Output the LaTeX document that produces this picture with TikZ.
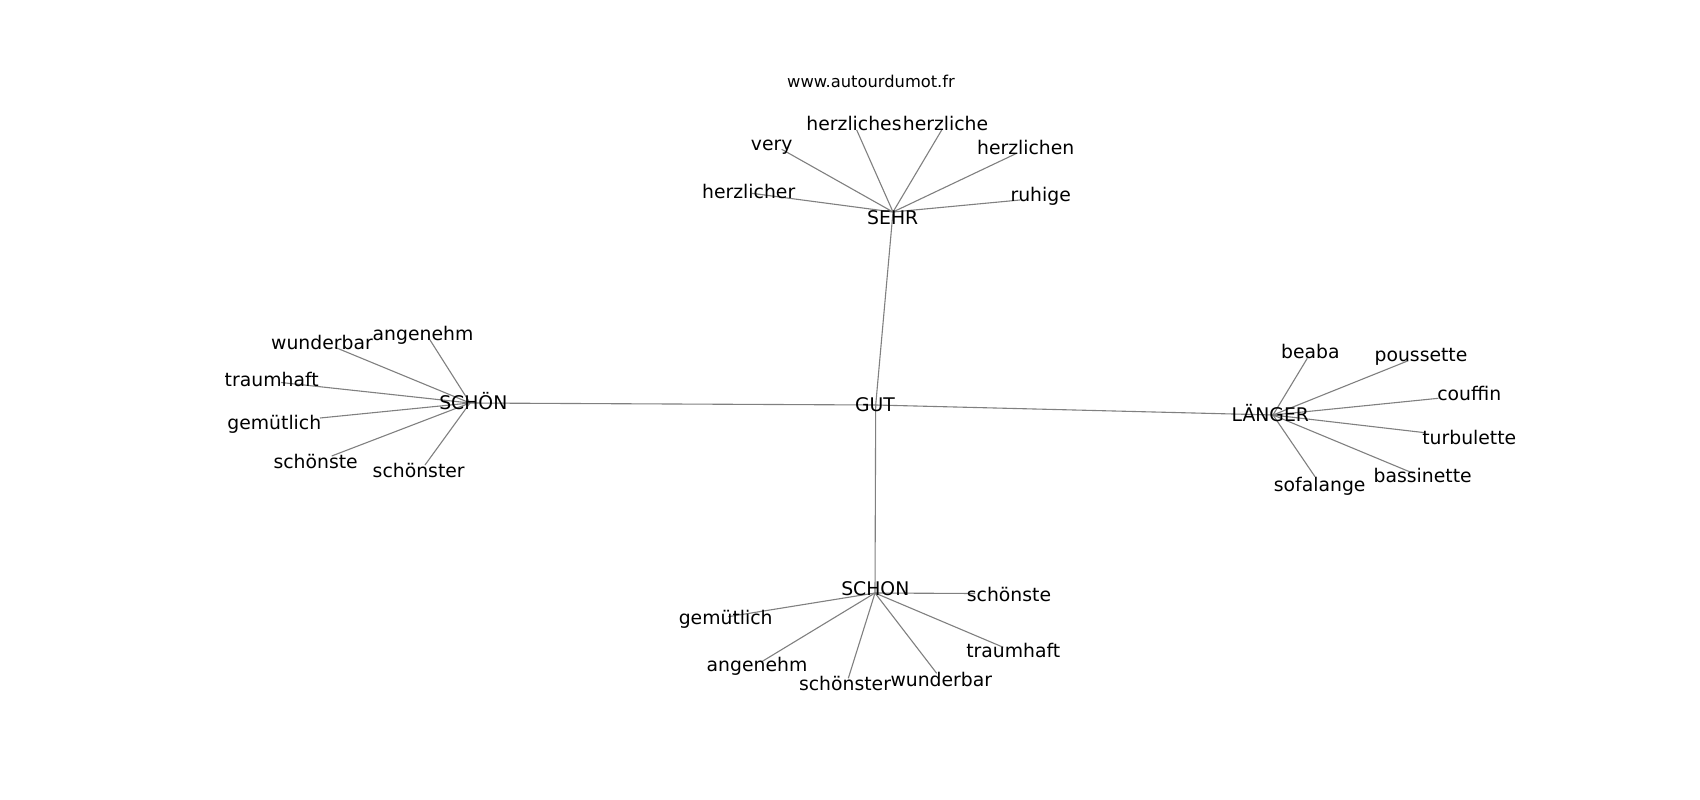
\documentclass[tikz,border=0pt]{standalone}
\usepackage{fontspec}
\setmainfont{DejaVu Sans}
\begin{document}
\begin{tikzpicture}[x=1pt,y=-1pt,
  edge/.style={draw=black!50,line width=1.1pt},
  word/.style={anchor=base,inner sep=0pt,font=\fontsize{18.8}{22}\selectfont,text=black},
  urltext/.style={anchor=base,inner sep=0pt,font=\fontsize{16.3}{19}\selectfont,text=black}]
\useasboundingbox[fill=white] (0,0) rectangle (1700,800);
% hubs
\coordinate (gut) at (875.7,405);
\coordinate (sehr) at (893,212);
\coordinate (schoenH) at (470,403);
\coordinate (laenger) at (1273,415);
\coordinate (schon) at (875,593);
% SEHR leaves
\coordinate (e-herzlicher) at (751.7,193.3);
\coordinate (e-very) at (781.7,149.3);
\coordinate (e-herzliches) at (856.7,130);
\coordinate (e-herzliche) at (941.7,130);
\coordinate (e-herzlichen) at (1016.7,153.3);
\coordinate (e-ruhige) at (1020,200);
% SCHÖN leaves
\coordinate (l-wunderbar) at (335,347.3);
\coordinate (l-angenehm) at (428.3,337.3);
\coordinate (l-traumhaft) at (281,382.5);
\coordinate (l-gemuetlich) at (320,418);
\coordinate (l-schoenste) at (331.7,456);
\coordinate (l-schoenster) at (425,465);
% LÄNGER leaves
\coordinate (r-beaba) at (1307.3,358.3);
\coordinate (r-poussette) at (1408.3,360.7);
\coordinate (r-couffin) at (1438.3,398.3);
\coordinate (r-turbulette) at (1425,432.7);
\coordinate (r-bassinette) at (1413.3,473.3);
\coordinate (r-sofalange) at (1315,476.7);
% SCHON leaves
\coordinate (b-schoenste) at (975,593.5);
\coordinate (b-gemuetlich) at (728.3,616.7);
\coordinate (b-angenehm) at (761.7,661.7);
\coordinate (b-schoenster) at (848.3,678.3);
\coordinate (b-wunderbar) at (936.7,673.3);
\coordinate (b-traumhaft) at (1003.3,647.3);
% edges
\draw[edge] (gut) -- (sehr);
\draw[edge] (gut) -- (schoenH);
\draw[edge] (gut) -- (laenger);
\draw[edge] (gut) -- (schon);
\foreach \n in {herzlicher,very,herzliches,herzliche,herzlichen,ruhige}
  \draw[edge] (sehr) -- (e-\n);
\foreach \n in {wunderbar,angenehm,traumhaft,gemuetlich,schoenste,schoenster}
  \draw[edge] (schoenH) -- (l-\n);
\foreach \n in {beaba,poussette,couffin,turbulette,bassinette,sofalange}
  \draw[edge] (laenger) -- (r-\n);
\foreach \n in {schoenste,gemuetlich,angenehm,schoenster,wunderbar,traumhaft}
  \draw[edge] (schon) -- (b-\n);
% labels
\node[urltext] (url) at (871,88) {www.autourdumot.fr};
\node[word] (t-gut) at (875,411) {GUT};
\node[word] (t-sehr) at (892.7,224.3) {SEHR};
\node[word] (t-schoen) at (473.3,409.3) {SCHÖN};
\node[word] (t-laenger) at (1270.3,421) {LÄNGER};
\node[word] (t-schon) at (875.3,595.7) {SCHON};
\node[word] (te-herzlicher) at (748.7,198.3) {herzlicher};
\node[word] (te-very) at (771.7,150) {very};
\node[word] (te-herzliches) at (854,130.7) {herzliches};
\node[word] (te-herzliche) at (945.5,130.7) {herzliche};
\node[word] (te-herzlichen) at (1025.7,154) {herzlichen};
\node[word] (te-ruhige) at (1040.7,201.7) {ruhige};
\node[word] (tl-wunderbar) at (322,349.3) {wunderbar};
\node[word] (tl-angenehm) at (423,340.3) {angenehm};
\node[word] (tl-traumhaft) at (271.7,386) {traumhaft};
\node[word] (tl-gemuetlich) at (274.3,429) {gemütlich};
\node[word] (tl-schoenste) at (315.7,468.3) {schönste};
\node[word] (tl-schoenster) at (418.7,477.3) {schönster};
\node[word] (tr-beaba) at (1310.3,358.3) {beaba};
\node[word] (tr-poussette) at (1421,361.7) {poussette};
\node[word] (tr-couffin) at (1469.3,400.7) {couffin};
\node[word] (tr-turbulette) at (1469.3,444) {turbulette};
\node[word] (tr-bassinette) at (1422.7,482.3) {bassinette};
\node[word] (tr-sofalange) at (1319.7,491.7) {sofalange};
\node[word] (tb-schoenste) at (1009,601.7) {schönste};
\node[word] (tb-gemuetlich) at (725.7,624) {gemütlich};
\node[word] (tb-angenehm) at (757,671.7) {angenehm};
\node[word] (tb-schoenster) at (845,690) {schönster};
\node[word] (tb-wunderbar) at (941.3,686) {wunderbar};
\node[word] (tb-traumhaft) at (1013.3,657.3) {traumhaft};
\end{tikzpicture}
\end{document}
